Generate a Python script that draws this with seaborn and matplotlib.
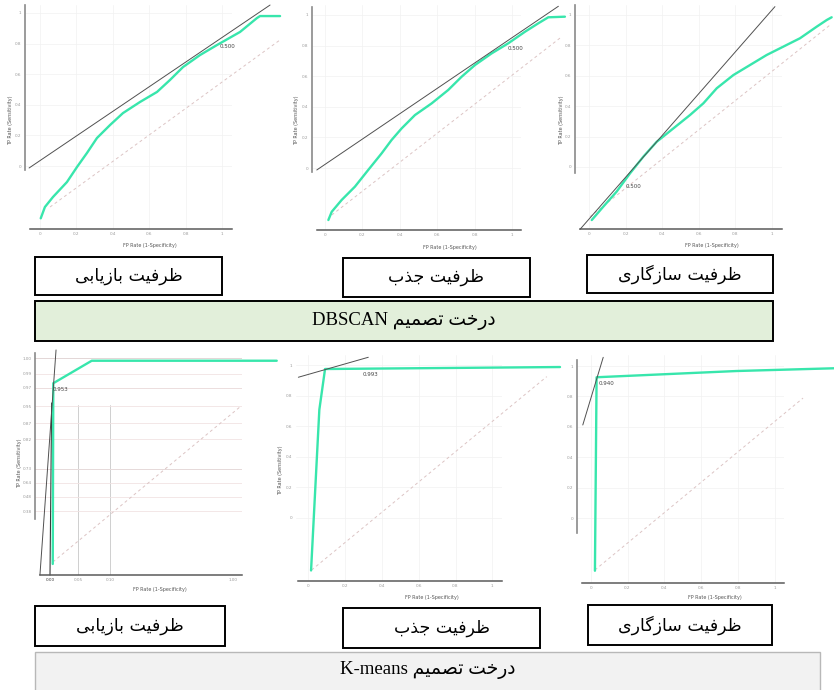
import matplotlib
matplotlib.use("Agg")
import matplotlib.pyplot as plt
from matplotlib.patches import Rectangle
import seaborn as sns

# ---------------------------------------------------------------- data
# ROC curves, DBSCAN decision tree (top row)
dbscan_recall_fpr = [0.004, 0.027, 0.071, 0.148, 0.203, 0.258, 0.313, 0.385, 0.456, 0.549,
                     0.643, 0.714, 0.786, 0.879, 0.973, 1.099, 1.192, 1.209, 1.319]
dbscan_recall_tpr = [-0.342, -0.268, -0.203, -0.105, -0.007, 0.085, 0.183, 0.268, 0.346, 0.418,
                     0.484, 0.562, 0.647, 0.725, 0.791, 0.876, 0.967, 0.980, 0.980]
dbscan_recall_tan_x = [-0.060, 1.264]
dbscan_recall_tan_y = [-0.013, 1.052]
dbscan_recall_diag_x = [0.055, 1.319]
dbscan_recall_diag_y = [-0.268, 0.824]

dbscan_attract_fpr = [0.018, 0.036, 0.089, 0.160, 0.231, 0.303, 0.356, 0.410, 0.481, 0.570,
                      0.659, 0.731, 0.802, 0.891, 0.980, 1.070, 1.141, 1.194, 1.283]
dbscan_attract_tpr = [-0.340, -0.286, -0.209, -0.122, -0.013, 0.096, 0.183, 0.259, 0.346, 0.422,
                      0.510, 0.597, 0.673, 0.749, 0.815, 0.891, 0.946, 0.985, 0.989]
dbscan_attract_tan_x = [-0.044, 1.248]
dbscan_attract_tan_y = [-0.013, 1.057]
dbscan_attract_diag_x = [0.036, 1.266]
dbscan_attract_diag_y = [-0.307, 0.858]

dbscan_compat_fpr = [0.015, 0.078, 0.151, 0.224, 0.297, 0.370, 0.461, 0.552, 0.625, 0.698,
                     0.789, 0.880, 0.971, 1.062, 1.153, 1.244, 1.299, 1.326]
dbscan_compat_tpr = [-0.349, -0.261, -0.162, -0.042, 0.068, 0.166, 0.254, 0.342, 0.419, 0.518,
                     0.605, 0.671, 0.737, 0.792, 0.847, 0.923, 0.967, 0.985]
dbscan_compat_tan_x = [-0.049, 1.016]
dbscan_compat_tan_y = [-0.410, 1.055]
dbscan_compat_diag_x = [0.005, 1.317]
dbscan_compat_diag_y = [-0.327, 0.934]

# ROC curves, K-means decision tree (bottom row)
kmeans_recall_fpr = [0.015, 0.018, 0.228, 1.239]
kmeans_recall_tpr = [-0.355, 0.834, 0.982, 0.982]
kmeans_recall_tan_x = [-0.055, 0.033]
kmeans_recall_tan_y = [-0.428, 1.053]
kmeans_recall_guide_x = [0.0, 0.009]
kmeans_recall_guide_y = [-0.428, 0.704]
kmeans_recall_diag_x = [0.016, 1.038]
kmeans_recall_diag_y = [-0.342, 0.678]

kmeans_attract_fpr = [0.015, 0.060, 0.091, 1.368]
kmeans_attract_tpr = [-0.346, 0.708, 0.975, 0.988]
kmeans_attract_tan_x = [-0.054, 0.326]
kmeans_attract_tan_y = [0.921, 1.052]
kmeans_attract_diag_x = [0.018, 1.296]
kmeans_attract_diag_y = [-0.343, 0.925]

kmeans_compat_fpr = [0.023, 0.032, 0.793, 1.322]
kmeans_compat_tpr = [-0.347, 0.926, 0.967, 0.985]
kmeans_compat_tan_x = [-0.043, 0.068]
kmeans_compat_tan_y = [0.612, 1.057]
kmeans_compat_diag_x = [0.023, 1.154]
kmeans_compat_diag_y = [-0.342, 0.789]

# cut-off annotations
cutoff_labels = ["0.500", "0.500", "0.500", "0.953", "0.993", "0.940"]
cutoff_x = [0.989, 0.979, 0.202, 0.016, 0.296, 0.041]
cutoff_y = [0.778, 0.778, -0.125, 0.796, 0.938, 0.882]

# tick labels
std_ticks = [0, 0.2, 0.4, 0.6, 0.8, 1]
std_tick_labels = ["0", "0.2", "0.4", "0.6", "0.8", "1"]
kmeans_recall_ytick_labels = ["1.00", "0.99", "0.97", "0.95", "0.87", "0.82", "0.73", "0.64", "0.48", "0.38"]
kmeans_recall_xtick_labels = ["0.00", "0.05", "0.10", "1.00"]

x_title = "FP Rate (1-Specificity)"
y_title = "TP Rate (Sensitivity)"

# captions
capability_labels = ["ظرفیت بازیابی", "ظرفیت جذب", "ظرفیت سازگاری"]
model_labels = ["درخت تصمیم DBSCAN", "درخت تصمیم K-means"]

# ------------------------------------------------------ right-to-left text
# Contextual forms: (isolated, final, initial, medial); letters without
# initial/medial forms only join to the preceding letter.
FORMS = {
    "ا": ("\uFE8D", "\uFE8E", None, None),
    "ب": ("\uFE8F", "\uFE90", "\uFE91", "\uFE92"),
    "ت": ("\uFE95", "\uFE96", "\uFE97", "\uFE98"),
    "ج": ("\uFE9D", "\uFE9E", "\uFE9F", "\uFEA0"),
    "خ": ("\uFEA5", "\uFEA6", "\uFEA7", "\uFEA8"),
    "د": ("\uFEA9", "\uFEAA", None, None),
    "ذ": ("\uFEAB", "\uFEAC", None, None),
    "ر": ("\uFEAD", "\uFEAE", None, None),
    "ز": ("\uFEAF", "\uFEB0", None, None),
    "س": ("\uFEB1", "\uFEB2", "\uFEB3", "\uFEB4"),
    "ص": ("\uFEB9", "\uFEBA", "\uFEBB", "\uFEBC"),
    "ظ": ("\uFEC5", "\uFEC6", "\uFEC7", "\uFEC8"),
    "ف": ("\uFED1", "\uFED2", "\uFED3", "\uFED4"),
    "م": ("\uFEE1", "\uFEE2", "\uFEE3", "\uFEE4"),
    "گ": ("\uFB92", "\uFB93", "\uFB94", "\uFB95"),
    "\u06cc": ("\uFBFC", "\uFBFD", "\uFBFE", "\uFBFF"),
}


def shape_word(word):
    out = []
    for i, ch in enumerate(word):
        forms = FORMS.get(ch)
        if forms is None:
            out.append(ch)
            continue
        prev = word[i - 1] if i > 0 else None
        nxt = word[i + 1] if i < len(word) - 1 else None
        join_prev = prev in FORMS and FORMS[prev][2] is not None
        join_next = nxt in FORMS and forms[2] is not None
        if join_prev and join_next:
            out.append(forms[3])
        elif join_prev:
            out.append(forms[1])
        elif join_next:
            out.append(forms[2])
        else:
            out.append(forms[0])
    return "".join(reversed(out))


def rtl(text):
    text = text.replace("\u064a", "\u06cc")
    words = text.split(" ")
    shaped = [shape_word(w) if any(c in FORMS for c in w) else w for w in words]
    return " ".join(reversed(shaped))


# ---------------------------------------------------------------- figure
sns.set_theme(style="white")
plt.rcParams["font.family"] = ["DejaVu Sans"]

W, H = 834, 690
fig = plt.figure(figsize=(W / 100, H / 100), dpi=100)
fig.patch.set_facecolor("white")

GREEN = "#38e6ac"
TAN = "#505050"
DIAG = "#dcc4c4"
TICK = "#9a9a9a"


def make_panel(rect, origin, scale, lspine, bspine):
    l, t, r, b = rect
    x0, y0 = origin
    sx, sy = scale
    ax = fig.add_axes([l / W, 1 - b / H, (r - l) / W, (b - t) / H])
    ax.set_xlim((l - x0) / sx, (r - x0) / sx)
    ax.set_ylim((y0 - b) / sy, (y0 - t) / sy)
    ax.patch.set_alpha(0)
    for side in ("top", "right"):
        ax.spines[side].set_visible(False)
    if lspine is None:
        ax.spines["left"].set_visible(False)
    else:
        ax.spines["left"].set_bounds((y0 - lspine[1]) / sy, (y0 - lspine[0]) / sy)
        ax.spines["left"].set_color("#8a8a8a")
        ax.spines["left"].set_linewidth(1.2)
    ax.spines["bottom"].set_bounds((bspine[0] - x0) / sx, (bspine[1] - x0) / sx)
    ax.spines["bottom"].set_color("#5a5a5a")
    ax.spines["bottom"].set_linewidth(1.1)
    ax.tick_params(length=0, labelsize=3, labelcolor=TICK, pad=2.5)
    return ax


def draw_roc(ax, fpr, tpr, tan_x, tan_y, diag_x, diag_y, label, lx, ly):
    ax.plot(diag_x, diag_y, color=DIAG, lw=0.7, ls=(0, (3, 3)), clip_on=False, zorder=1)
    sns.lineplot(x=fpr, y=tpr, ax=ax, color=GREEN, lw=1.7, sort=False,
                 estimator=None, clip_on=False, zorder=3)
    ax.plot(tan_x, tan_y, color=TAN, lw=0.7, clip_on=False, zorder=4)
    ax.text(lx, ly, label, fontsize=4, color="#444444", ha="left", va="center", zorder=5)


def std_axes(ax):
    ax.set_xticks(std_ticks, std_tick_labels)
    ax.set_yticks(std_ticks, std_tick_labels)
    ax.grid(True, color="#f1f1f1", lw=0.5)


def fig_text(px, py, s, **kw):
    fig.text(px / W, 1 - py / H, s, **kw)


# top row: DBSCAN
ax1 = make_panel((25, 5, 232, 229), (40, 166), (182, 153), (5, 170), (30, 232))
std_axes(ax1)
draw_roc(ax1, dbscan_recall_fpr, dbscan_recall_tpr, dbscan_recall_tan_x, dbscan_recall_tan_y,
         dbscan_recall_diag_x, dbscan_recall_diag_y, cutoff_labels[0], cutoff_x[0], cutoff_y[0])

ax2 = make_panel((312, 5, 521, 230), (325, 168), (187, 153), (7, 172), (317, 521))
std_axes(ax2)
draw_roc(ax2, dbscan_attract_fpr, dbscan_attract_tpr, dbscan_attract_tan_x, dbscan_attract_tan_y,
         dbscan_attract_diag_x, dbscan_attract_diag_y, cutoff_labels[1], cutoff_x[1], cutoff_y[1])

ax3 = make_panel((575, 5, 782, 229), (589, 167), (183, 152), (5, 173), (580, 782))
std_axes(ax3)
draw_roc(ax3, dbscan_compat_fpr, dbscan_compat_tpr, dbscan_compat_tan_x, dbscan_compat_tan_y,
         dbscan_compat_diag_x, dbscan_compat_diag_y, cutoff_labels[2], cutoff_x[2], cutoff_y[2])

# bottom row: K-means
ax4 = make_panel((35, 350, 242, 575), (50, 510), (183, 152), (353, 519), (40, 242))
ax4.set_yticks([1.0, 0.895, 0.803, 0.684, 0.572, 0.467, 0.270, 0.178, 0.086, -0.007],
               kmeans_recall_ytick_labels)
ax4.set_xticks([0.0, 0.153, 0.328, 1.0], kmeans_recall_xtick_labels)
ax4.grid(True, axis="y", color="#f1e3e3", lw=0.6)
for yv, col in ((1.0, "#9a9a9a"), (0.803, "#d6c4c4"), (0.270, "#b0b0b0")):
    ax4.axhline(yv, color=col, lw=0.7, zorder=0)
for xv in (0.153, 0.328):
    ax4.axvline(xv, ymin=0, ymax=0.756, color="#c8c8c8", lw=0.6, zorder=0)
ax4.plot(kmeans_recall_guide_x, kmeans_recall_guide_y, color="#3a3a3a", lw=0.8, clip_on=False, zorder=2)
draw_roc(ax4, kmeans_recall_fpr, kmeans_recall_tpr, kmeans_recall_tan_x, kmeans_recall_tan_y,
         kmeans_recall_diag_x, kmeans_recall_diag_y, cutoff_labels[3], cutoff_x[3], cutoff_y[3])
ax4.get_xticklabels()[0].set_color("#333333")

ax5 = make_panel((296, 355, 502, 581), (308.3, 517.7), (184, 152.5), None, (298, 502))
std_axes(ax5)
draw_roc(ax5, kmeans_attract_fpr, kmeans_attract_tpr, kmeans_attract_tan_x, kmeans_attract_tan_y,
         kmeans_attract_diag_x, kmeans_attract_diag_y, cutoff_labels[4], cutoff_x[4], cutoff_y[4])

ax6 = make_panel((577, 355, 784, 583), (590.7, 518), (184, 152), (360, 533), (582, 784))
std_axes(ax6)
draw_roc(ax6, kmeans_compat_fpr, kmeans_compat_tpr, kmeans_compat_tan_x, kmeans_compat_tan_y,
         kmeans_compat_diag_x, kmeans_compat_diag_y, cutoff_labels[5], cutoff_x[5], cutoff_y[5])

# axis titles
for (tx, ty) in ((11, 120), (297, 120), (562, 120), (20, 463), (281, 470)):
    fig_text(tx, ty, y_title, rotation=90, fontsize=3.5, color="#555555", ha="center", va="center")
for (tx, ty) in ((150, 245), (450, 247), (712, 245), (160, 589), (432, 597), (715, 597)):
    fig_text(tx, ty, x_title, fontsize=3.5, color="#555555", ha="center", va="center")


# caption boxes
def box(l, t, r, b, text, face="white", edge="black", lw=1.4, family=None, size=12.5, text_y=None):
    fig.add_artist(Rectangle((l / W, 1 - b / H), (r - l) / W, (b - t) / H,
                             transform=fig.transFigure, facecolor=face, edgecolor=edge, lw=lw))
    kw = {"family": family} if family else {}
    ty = (t + b) / 2 if text_y is None else text_y
    fig_text((l + r) / 2, ty, rtl(text), fontsize=size, color="black",
             ha="center", va="center", **kw)


top_boxes = [(35, 257, 222, 295), (343, 258, 530, 297), (587, 255, 773, 293)]
bottom_boxes = [(35, 606, 225, 646), (343, 608, 540, 648), (588, 605, 772, 645)]
for (l, t, r, b), txt in zip(top_boxes, capability_labels):
    box(l, t, r, b, txt)
for (l, t, r, b), txt in zip(bottom_boxes, capability_labels):
    box(l, t, r, b, txt)

box(35, 301, 773, 341, model_labels[0], face="#e2efda", edge="black", lw=1.4,
    family=["Liberation Serif", "DejaVu Sans"], size=13.5)
box(35, 652, 820, 700, model_labels[1], face="#f2f2f2", edge="#b8b8b8", lw=1.0,
    family=["Liberation Serif", "DejaVu Sans"], size=13.5, text_y=670)

fig.savefig("out.png", dpi=100, facecolor="white")
